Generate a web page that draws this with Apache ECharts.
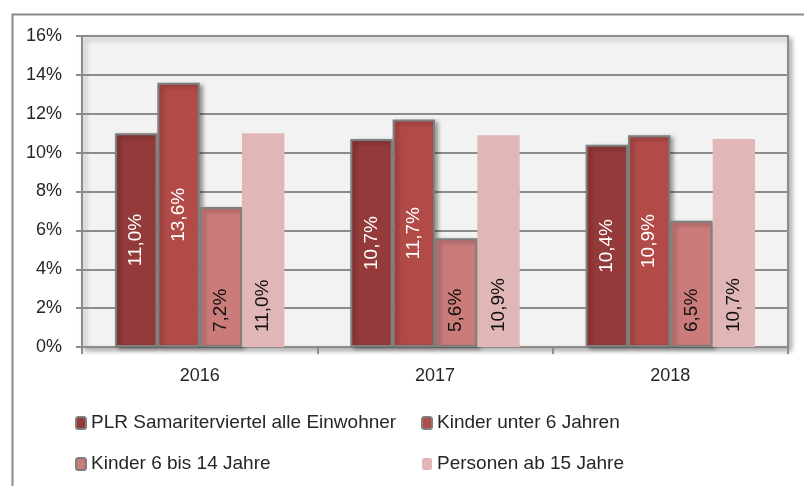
<!DOCTYPE html>
<html><head><meta charset="utf-8">
<script src="https://cdn.jsdelivr.net/npm/echarts@6/dist/echarts.min.js"></script>
<style>html,body{margin:0;padding:0;background:#fff}#c{width:804px;height:486px}</style>
</head><body><div id="c"></div>
<script>
const categories = ['2016', '2017', '2018'];
const seriesNames = ['PLR Samariterviertel alle Einwohner', 'Kinder unter 6 Jahren', 'Kinder 6 bis 14 Jahre', 'Personen ab 15 Jahre'];
const plrAll = [11.0, 10.7, 10.4];
const kinderU6 = [13.6, 11.7, 10.9];
const kinder6bis14 = [7.2, 5.6, 6.5];
const personenAb15 = [11.0, 10.9, 10.7];
const yTicks = { min: 0, max: 16, interval: 2 };

const colors = ['#953a3a', '#b24b48', '#cb7b7a', '#e0b6b6'];
const FONT = 'Liberation Sans';
const fmt = p => p.value.toFixed(1).replace('.', ',') + '%';

function mkSeries(name, data, color, centered, bordered) {
  return {
    name: name, type: 'bar', data: data,
    barGap: '0%', barCategoryGap: '28%',
    itemStyle: bordered ? {
      color: color, borderColor: '#7f7f7f', borderWidth: 2,
      shadowColor: 'rgba(0,0,0,0.35)', shadowBlur: 4, shadowOffsetX: 3, shadowOffsetY: 2
    } : { color: color },
    label: centered ? {
      show: true, position: 'inside', rotate: 90, align: 'center', verticalAlign: 'middle',
      color: '#fff', fontSize: 19, fontFamily: FONT, formatter: fmt
    } : {
      show: true, position: 'insideBottom', distance: 15, rotate: 90, align: 'left', verticalAlign: 'middle',
      color: '#111', fontSize: 19, fontFamily: FONT, formatter: fmt
    }
  };
}

const chart = echarts.init(document.getElementById('c'), null, { renderer: 'canvas' });
chart.setOption({
  animation: false,
  graphic: [{
    type: 'rect', left: 10, top: 12, shape: { width: 820, height: 500 },
    style: { fill: 'none', stroke: '#8a8a8a', lineWidth: 2 }, z: -10
  }],
  grid: {
    left: 82, right: 16, top: 36, bottom: 139, show: true,
    backgroundColor: '#f2f2f2', borderColor: '#8c8c8c', borderWidth: 2,
    shadowColor: 'rgba(0,0,0,0.3)', shadowBlur: 5, shadowOffsetX: 3, shadowOffsetY: 3
  },
  legend: [{
    left: 70, top: 408, orient: 'vertical', itemWidth: 10, itemHeight: 12, itemGap: 21,
    data: [seriesNames[0], seriesNames[2]],
    textStyle: { fontSize: 19, fontFamily: FONT, color: '#262626', lineHeight: 20 }
  }, {
    left: 416, top: 408, orient: 'vertical', itemWidth: 10, itemHeight: 12, itemGap: 21,
    data: [seriesNames[1], seriesNames[3]],
    textStyle: { fontSize: 19, fontFamily: FONT, color: '#262626', lineHeight: 20 }
  }],
  xAxis: {
    type: 'category', data: categories,
    axisLine: { lineStyle: { color: '#8c8c8c', width: 2 } },
    axisTick: { show: true, length: 7, lineStyle: { color: '#8c8c8c', width: 2 } },
    axisLabel: { fontSize: 18, fontFamily: FONT, color: '#262626', margin: 20 }
  },
  yAxis: {
    type: 'value', min: yTicks.min, max: yTicks.max, interval: yTicks.interval,
    axisLine: { show: true, lineStyle: { color: '#8c8c8c', width: 2 } },
    axisTick: { show: true, length: 6, lineStyle: { color: '#8c8c8c', width: 2 } },
    splitLine: { lineStyle: { color: '#8c8c8c', width: 2 } },
    axisLabel: { fontSize: 18, fontFamily: FONT, color: '#262626', margin: 20, formatter: '{value}%' }
  },
  series: [
    mkSeries(seriesNames[0], plrAll, colors[0], true, true),
    mkSeries(seriesNames[1], kinderU6, colors[1], true, true),
    mkSeries(seriesNames[2], kinder6bis14, colors[2], false, true),
    mkSeries(seriesNames[3], personenAb15, colors[3], false, false)
  ]
});
</script></body></html>
